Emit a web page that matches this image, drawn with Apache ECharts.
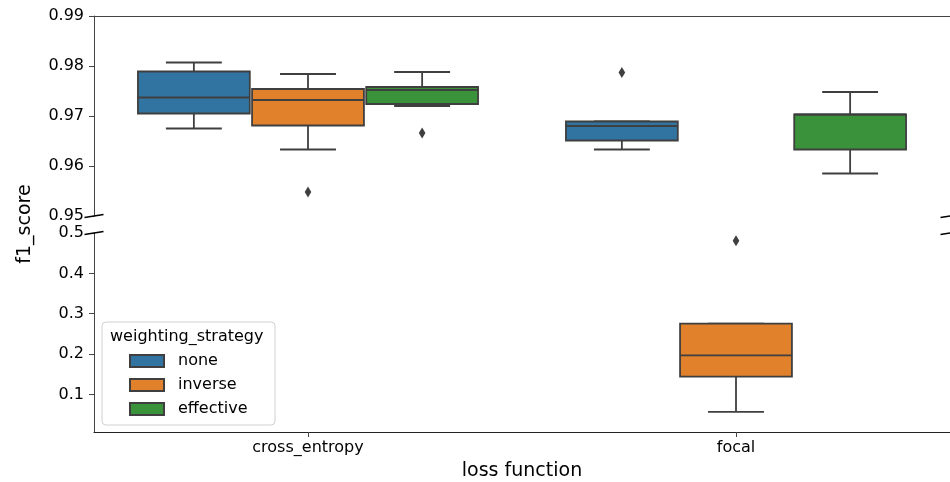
<!DOCTYPE html>
<html>
<head>
<meta charset="utf-8">
<script src="https://cdn.jsdelivr.net/npm/echarts@6/dist/echarts.min.js"></script>
<style>html,body{margin:0;padding:0;background:#fff;}#c{width:950px;height:482px;}</style>
</head>
<body>
<div id="c"></div>
<script>
// ---- data ----
const categories = ['cross_entropy', 'focal'];
const strategies = ['none', 'inverse', 'effective'];
// per category: [lower whisker, Q1, median, Q3, upper whisker]
const boxNone = [[0.9675, 0.9705, 0.9737, 0.9789, 0.9807], [0.9633, 0.9651, 0.9680, 0.9689, 0.9689]];
const boxInverse = [[0.9633, 0.9681, 0.9732, 0.9754, 0.9784], [0.057, 0.144, 0.1967, 0.2756, 0.2756]];
const boxEffective = [[0.9720, 0.9724, 0.9752, 0.9758, 0.9788], [0.9585, 0.9633, 0.9703, 0.9703, 0.9748]];
// outliers: [category index, value]
const outliersNone = [[1, 0.9787]];
const outliersInverse = [[0, 0.9548], [1, 0.481]];
const outliersEffective = [[0, 0.9666]];
const topTicks = [0.95, 0.96, 0.97, 0.98, 0.99];
const bottomTicks = [0.1, 0.2, 0.3, 0.4, 0.5];
const topRange = [0.95, 0.99];
const bottomRange = [0.007, 0.5];

// ---- styles ----
const COLORS = ['#3274a1', '#e1812c', '#3a923a'];
const LINE = '#3f3f3f';
const FONT = 'DejaVu Sans';
const AX = '#444';
const LW = 1.8;

const boxes = [boxNone, boxInverse, boxEffective];
const outliers = [outliersNone, outliersInverse, outliersEffective];

function renderBox(params, api) {
  const cat = api.value(0), hue = api.value(1);
  const mn = api.value(2), q1 = api.value(3), md = api.value(4), q3 = api.value(5), mx = api.value(6);
  const band = api.size([1, 0])[0];
  const slot = band * 0.8 / 3;
  const cx = api.coord([cat, md])[0] + (hue - 1) * slot;
  const w = slot * 0.98;
  const y = v => api.coord([cat, v])[1];
  const ls = { stroke: LINE, lineWidth: LW, fill: null };
  const color = COLORS[hue];
  return {
    type: 'group',
    children: [
      { type: 'line', shape: { x1: cx, y1: y(q3), x2: cx, y2: y(mx) }, style: ls },
      { type: 'line', shape: { x1: cx, y1: y(q1), x2: cx, y2: y(mn) }, style: ls },
      { type: 'line', shape: { x1: cx - w / 4, y1: y(mx), x2: cx + w / 4, y2: y(mx) }, style: ls },
      { type: 'line', shape: { x1: cx - w / 4, y1: y(mn), x2: cx + w / 4, y2: y(mn) }, style: ls },
      { type: 'rect', shape: { x: cx - w / 2, y: y(q3), width: w, height: y(q1) - y(q3) },
        style: { fill: color, stroke: LINE, lineWidth: LW } },
      { type: 'line', shape: { x1: cx - w / 2, y1: y(md), x2: cx + w / 2, y2: y(md) }, style: ls }
    ]
  };
}
function renderOutlier(params, api) {
  const cat = api.value(0), hue = api.value(1), v = api.value(2);
  const band = api.size([1, 0])[0];
  const slot = band * 0.8 / 3;
  const p = api.coord([cat, v]);
  const cx = p[0] + (hue - 1) * slot, cy = p[1];
  return { type: 'polygon', shape: { points: [[cx, cy - 5.5], [cx + 3.3, cy], [cx, cy + 5.5], [cx - 3.3, cy]] },
    style: { fill: LINE } };
}

const series = [];
[0, 1].forEach(function (g) {
  const range = g === 0 ? topRange : bottomRange;
  strategies.forEach(function (name, h) {
    const data = [];
    boxes[h].forEach(function (b, c) {
      if (b[0] >= range[0] && b[4] <= range[1]) data.push([c, h].concat(b));
    });
    series.push({
      type: 'custom', name: name, xAxisIndex: g, yAxisIndex: g,
      renderItem: renderBox, data: data, silent: true,
      encode: { x: 0, y: [2, 3, 4, 5, 6] },
      itemStyle: { color: COLORS[h], borderColor: LINE, borderWidth: 1 }
    });
    const od = [];
    outliers[h].forEach(function (o) {
      if (o[1] >= range[0] && o[1] <= range[1]) od.push([o[0], h, o[1]]);
    });
    series.push({
      type: 'custom', name: name + '_outliers', xAxisIndex: g, yAxisIndex: g,
      renderItem: renderOutlier, data: od, silent: true,
      encode: { x: 0, y: 2 }
    });
  });
});

const chart = echarts.init(document.getElementById('c'), null, { renderer: 'canvas' });
const yLabel = { color: '#000', fontSize: 16, fontFamily: FONT, margin: 10 };
chart.setOption({
  animation: false,
  backgroundColor: '#fff',
  textStyle: { fontFamily: FONT },
  grid: [
    { left: 94, right: 0, top: 16, height: 200 },
    { left: 94, right: 0, top: 233, height: 200 }
  ],
  xAxis: [
    { type: 'category', gridIndex: 0, data: categories, position: 'top',
      axisLine: { show: true, lineStyle: { color: AX, width: 1 } },
      axisTick: { show: false }, axisLabel: { show: false }, splitLine: { show: false } },
    { type: 'category', gridIndex: 1, data: categories, position: 'bottom',
      axisLine: { show: true, lineStyle: { color: '#222', width: 1 } },
      axisTick: { show: true, alignWithLabel: true, length: 5, lineStyle: { color: AX } },
      axisLabel: { color: '#000', fontSize: 16, fontFamily: FONT, margin: 8 },
      name: 'loss function', nameLocation: 'middle', nameGap: 30,
      nameTextStyle: { color: '#000', fontSize: 19, fontFamily: FONT },
      splitLine: { show: false } }
  ],
  yAxis: [
    { type: 'value', gridIndex: 0, min: topRange[0], max: topRange[1],
      axisLine: { show: true, lineStyle: { color: AX, width: 1 } },
      axisTick: { show: true, length: 5, lineStyle: { color: AX }, customValues: topTicks },
      axisLabel: Object.assign({ customValues: topTicks }, yLabel),
      splitLine: { show: false } },
    { type: 'value', gridIndex: 1, min: bottomRange[0], max: bottomRange[1],
      axisLine: { show: true, lineStyle: { color: AX, width: 1 } },
      axisTick: { show: true, length: 5, lineStyle: { color: AX }, customValues: bottomTicks },
      axisLabel: Object.assign({ customValues: bottomTicks }, yLabel),
      splitLine: { show: false } }
  ],
  legend: {
    data: strategies, orient: 'vertical', left: 129, top: 353,
    itemWidth: 34, itemHeight: 12, itemGap: 8, icon: 'rect',
    padding: 0, selectedMode: false,
    textStyle: { color: '#000', fontSize: 16, fontFamily: FONT, lineHeight: 16, padding: [0, 0, 0, 9] },
    z: 10
  },
  series: series
});

// decorative: legend frame/title, y title, axis-break marks
const band = chart.convertToPixel({ xAxisIndex: 0 }, 1) - chart.convertToPixel({ xAxisIndex: 0 }, 0);
const xL = chart.convertToPixel({ xAxisIndex: 0 }, 0) - band / 2;
const xR = xL + band * categories.length;
const yBreakTop = chart.convertToPixel({ yAxisIndex: 0 }, topRange[0]);
const yBreakBot = chart.convertToPixel({ yAxisIndex: 1 }, bottomRange[1]);
const yTopEdge = chart.convertToPixel({ yAxisIndex: 0 }, topRange[1]);
const yBotEdge = chart.convertToPixel({ yAxisIndex: 1 }, bottomRange[0]);
function brk(x, y) {
  return { type: 'line', shape: { x1: x - 9.5, y1: y + 1.5, x2: x + 9.5, y2: y - 1.5 },
    style: { stroke: '#000', lineWidth: 1.3 }, z: 20, silent: true };
}
chart.setOption({
  graphic: [
    { type: 'rect', shape: { x: 102, y: 322, width: 173, height: 103, r: 4 },
      style: { fill: 'rgba(255,255,255,0.8)', stroke: '#d0d0d0', lineWidth: 1 }, z: 5, silent: true },
    { type: 'text', x: 110, y: 337, style: { text: 'weighting_strategy', fill: '#000', fontSize: 16, fontFamily: FONT,
      textAlign: 'left', textVerticalAlign: 'middle' }, z: 6, silent: true },
    { type: 'text', x: 25, y: (yTopEdge + yBotEdge) / 2, rotation: Math.PI / 2,
      style: { text: 'f1_score', fill: '#000', fontSize: 19, fontFamily: FONT, textAlign: 'center', textVerticalAlign: 'middle' },
      silent: true },
    brk(xL, yBreakTop), brk(xL, yBreakBot), brk(xR, yBreakTop), brk(xR, yBreakBot)
  ]
});
</script>
</body>
</html>
